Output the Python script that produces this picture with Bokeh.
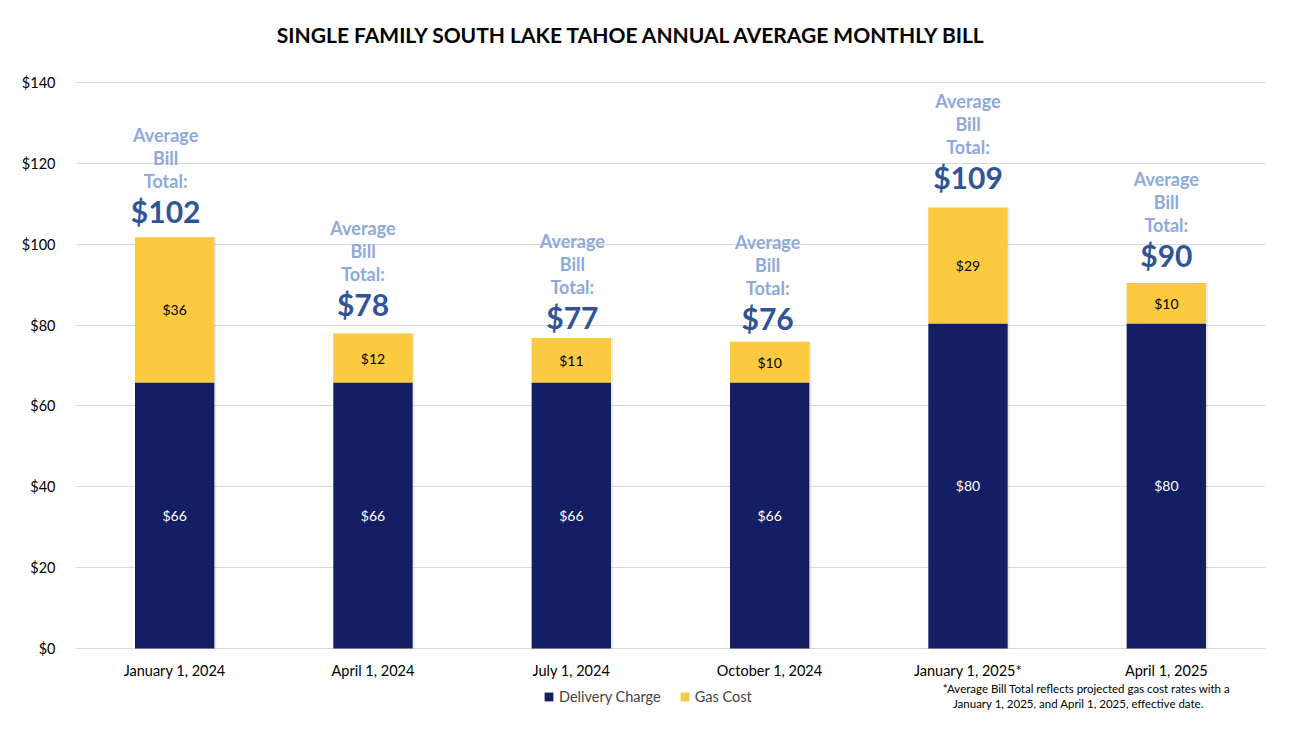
from bokeh.plotting import figure
from bokeh.models import (ColumnDataSource, Legend, LegendItem, Label, FixedTicker,
                          Range1d, FactorRange, CustomJSTickFormatter)
from bokeh.transform import dodge
from bokeh.embed import file_html
from bokeh.resources import INLINE
from bokeh.core.properties import value

# ---------------- data ----------------
dates = ["January 1, 2024", "April 1, 2024", "July 1, 2024",
         "October 1, 2024", "January 1, 2025*", "April 1, 2025"]
delivery = [65.8, 65.8, 65.8, 65.8, 80.4, 80.4]
gas = [35.9, 12.1, 11.0, 10.1, 28.7, 10.0]
series_names = ["Delivery Charge", "Gas Cost"]
y_ticks = [0, 20, 40, 60, 80, 100, 120, 140]
title_text = "SINGLE FAMILY SOUTH LAKE TAHOE ANNUAL AVERAGE MONTHLY BILL"
annot_lines = ["Average", "Bill", "Total:"]
footnote_lines = ["*Average Bill Total reflects projected gas cost rates with a",
                  "January 1, 2025, and April 1, 2025, effective date."]

# ---------------- styling / layout ----------------
NAVY = "#141E64"
YELLOW = "#FCCA40"
LIGHTBLUE = "#8EA9DB"
DARKBLUE = "#2F5597"
FONT = "Lato"
# pixel nudges of the "Average Bill Total" call-outs (as placed in the original)
annot_dx = [-9, -10, 1, -2, 0, 0]
annot_dy = [26, 30, 21, 24, 30, 28]

PX = 566 / 140.0          # pixels per dollar
FRAME_BOTTOM = 711        # frame spans canvas y 0..711
Y0 = 648                  # canvas y of $0
CAT = 1190 / 6.0          # pixels per category

totals = [d + g for d, g in zip(delivery, gas)]
src = ColumnDataSource(dict(
    x=dates,
    delivery=delivery,
    gas=gas,
    total=totals,
    d_mid=[d / 2 for d in delivery],
    g_mid=[d + g / 2 for d, g in zip(delivery, gas)],
    d_lab=["$%d" % round(d) for d in delivery],
    g_lab=["$%d" % round(g) for g in gas],
    t_lab=["$%d" % round(t) for t in totals],
    dx=annot_dx,
    dy_num=[-d for d in annot_dy],
))

y_start = -(FRAME_BOTTOM - Y0) / PX
y_end = 140 + (82 - 0) / PX

p = figure(width=1300, height=731, x_range=FactorRange(*dates),
           y_range=Range1d(y_start, y_end), output_backend="svg",
           toolbar_location=None,
           min_border_left=75, min_border_right=35, min_border_top=0,
           min_border_bottom=731 - FRAME_BOTTOM)
p.outline_line_color = None
p.xgrid.grid_line_color = None
p.ygrid.grid_line_color = "#D9D9D9"
p.ygrid.grid_line_width = 1
p.yaxis.ticker = FixedTicker(ticks=y_ticks)
p.yaxis.formatter = CustomJSTickFormatter(code="return '$' + tick.toFixed(0);")
for ax in (p.xaxis[0], p.yaxis[0]):
    ax.axis_line_color = None
    ax.major_tick_line_color = None
    ax.minor_tick_line_color = None
    ax.major_tick_out = 0
    ax.major_tick_in = 0
    ax.major_label_text_font = FONT
    ax.major_label_text_font_size = "14.5px"
    ax.major_label_text_color = "#000000"
p.yaxis.major_label_standoff = 20
p.xaxis.fixed_location = -(661 - Y0) / PX
p.xaxis.major_label_standoff = 0

# soft bar shadow
p.vbar(x=dodge("x", 0.005, range=p.x_range), top="total", bottom=0, width=0.41,
       source=src, fill_color="#000000", fill_alpha=0.08, line_color=None)

r_del = p.vbar(x="x", top="delivery", bottom=0, width=0.40, source=src,
               fill_color=NAVY, line_color=None)
r_gas = p.vbar(x="x", top="total", bottom="delivery", width=0.40, source=src,
               fill_color=YELLOW, line_color=None)

p.text(x="x", y="d_mid", text="d_lab", source=src, text_align="center",
       text_baseline="middle", text_color="white", text_font=value(FONT),
       text_font_size="14px")
p.text(x="x", y="g_mid", text="g_lab", source=src, text_align="center",
       text_baseline="middle", text_color="black", text_font=value(FONT),
       text_font_size="14px")

# "Average Bill Total:" call-outs above the bars
for k, line in enumerate(annot_lines):
    ys = [-(d + 30 + 23 * (2 - k)) for d in annot_dy]
    s = ColumnDataSource(dict(x=dates, y=totals, dx=annot_dx, dy=ys))
    p.text(x="x", y="y", text=value(line), source=s, x_offset="dx",
           y_offset="dy", text_align="center", text_baseline="middle",
           text_color=LIGHTBLUE, text_font=value(FONT), text_font_size="18px",
           text_font_style="bold")
p.text(x="x", y="total", text="t_lab", source=src, x_offset="dx",
       y_offset="dy_num", text_align="center", text_baseline="middle",
       text_color=DARKBLUE, text_font=value(FONT), text_font_size="30px",
       text_font_style="bold")

# title
p.add_layout(Label(x=(632 - 75) / CAT, y=(Y0 - 34) / PX, text=title_text,
                   text_align="center", text_baseline="middle", text_font=FONT,
                   text_font_size="21px", text_font_style="bold",
                   text_color="black"))

# footnote
for line, cx, cy in zip(footnote_lines, [1086, 1078], [688, 703]):
    p.add_layout(Label(x=(cx - 75) / CAT, y=(Y0 - cy) / PX,
                       text=line, text_align="center",
                       text_baseline="middle", text_font=FONT,
                       text_font_size="11.5px", text_color="black"))

legend = Legend(items=[LegendItem(label=series_names[0], renderers=[r_del]),
                       LegendItem(label=series_names[1], renderers=[r_gas])],
                orientation="horizontal", location=(468, 6),
                label_text_font=FONT, label_text_font_size="14.5px",
                glyph_width=11, glyph_height=11, spacing=18, label_standoff=5,
                border_line_color=None, background_fill_alpha=0,
                margin=0, padding=4)
p.add_layout(legend, "center")

open("out.html", "w").write(file_html(p, INLINE))
